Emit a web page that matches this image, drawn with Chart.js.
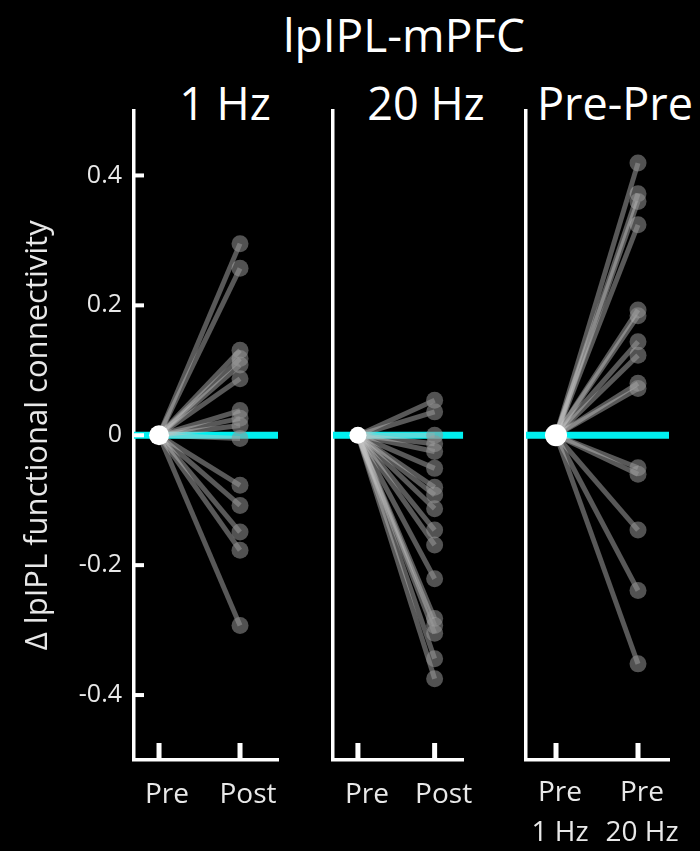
<!DOCTYPE html>
<html><head><meta charset="utf-8">
<script src="https://cdn.jsdelivr.net/npm/chart.js@4.4.1/dist/chart.umd.min.js"></script>
<style>
html,body{margin:0;padding:0;background:#000;width:700px;height:851px;overflow:hidden;}
.c{position:absolute;top:0;height:851px;}
.t{position:absolute;color:#fff;font-family:"Open Sans",sans-serif;font-size:45px;line-height:50px;white-space:nowrap;transform:translate(-50%,-50%);}
</style></head><body>
<div class="t" id="mainTitle" style="left:404px;top:34px;font-size:46px"></div>
<div class="t" id="pt0" style="left:225px;top:103px"></div>
<div class="t" id="pt1" style="left:426px;top:103px"></div>
<div class="t" id="pt2" style="left:615px;top:103px"></div>
<div class="c" style="left:0px;width:300px"><canvas id="c0" width="300" height="851"></canvas></div>
<div class="c" style="left:300px;width:180px"><canvas id="c1" width="180" height="851"></canvas></div>
<div class="c" style="left:490px;width:210px"><canvas id="c2" width="210" height="851"></canvas></div>
<script>
const mainTitle = 'lpIPL-mPFC';
const panelTitles = ['1 Hz', '20 Hz', 'Pre-Pre'];
const yAxisTitle = '\u0394 lpIPL functional connectivity';
const yTickValues = [-0.4, -0.2, 0, 0.2, 0.4];
const yTickLabels = ['-0.4', '-0.2', '0', '0.2', '0.4'];
const xLabels1Hz = ['Pre', 'Post'];
const xLabels20Hz = ['Pre', 'Post'];
const xLabelsPrePre = [['Pre', '1 Hz'], ['Pre', '20 Hz']];
const preValue = 0;
const post1Hz = [0.295, 0.257, 0.131, 0.118, 0.108, 0.087, 0.038, 0.026, 0.015, -0.005, -0.077, -0.108, -0.149, -0.177, -0.293];
const post20Hz = [0.054, 0.036, 0.0, -0.013, -0.025, -0.051, -0.080, -0.092, -0.113, -0.146, -0.169, -0.221, -0.282, -0.293, -0.305, -0.344, -0.375];
const prePre = [0.419, 0.372, 0.360, 0.324, 0.193, 0.184, 0.144, 0.123, 0.080, 0.072, -0.050, -0.060, -0.146, -0.239, -0.352];

document.getElementById('mainTitle').textContent = mainTitle;
panelTitles.forEach((t, i) => document.getElementById('pt' + i).textContent = t);

const FONT = '"Open Sans", sans-serif';

const inwardTicks = {
  id: 'inwardTicks',
  afterDraw(chart, args, opts) {
    const {ctx, chartArea} = chart;
    const xs = chart.scales.x, ys = chart.scales.y;
    ctx.save();
    ctx.fillStyle = '#fff';
    [1, 2].forEach(v => {
      const px = xs.getPixelForValue(v);
      ctx.fillRect(px - 2.5, chartArea.bottom - 17, 5, 17);
    });
    if (opts.yTicks) {
      yTickValues.forEach(v => {
        const py = ys.getPixelForValue(v);
        ctx.fillRect(chartArea.left, py - 2, 10, 4);
      });
    }
    ctx.restore();
  }
};

function makeChart(id, values, labels, o) {
  const datasets = [];
  datasets.push({
    data: [{x: 1, y: preValue}], showLine: false, pointRadius: o.preR,
    pointBackgroundColor: '#fff', pointBorderWidth: 0, order: 0
  });
  values.forEach(v => {
    datasets.push({
      data: [{x: 1, y: preValue}, {x: 2, y: v}],
      borderColor: 'rgba(195,195,195,0.45)', borderWidth: 5,
      pointRadius: [0, 8.5], pointBackgroundColor: 'rgba(150,150,150,0.55)',
      pointBorderWidth: 0, order: 1
    });
  });
  datasets.push({
    data: [{x: o.xmin, y: preValue}, {x: o.xmax, y: preValue}],
    borderColor: '#00f0f0', borderWidth: 7, pointRadius: 0, order: 2
  });
  return new Chart(document.getElementById(id), {
    type: 'line',
    data: {datasets},
    options: {
      responsive: false, animation: false,
      layout: {padding: {top: 110.5, right: o.padRight, left: 0, bottom: 0}},
      plugins: {legend: {display: false}, tooltip: {enabled: false}, inwardTicks: {yTicks: o.showY}},
      scales: {
        x: {
          type: 'linear', min: o.xmin, max: o.xmax,
          afterBuildTicks: s => { s.ticks = [{value: 1}, {value: 2}]; },
          afterFit: s => { s.height = 91; },
          grid: {display: false, drawTicks: false},
          border: {display: true, color: '#fff', width: 3.5},
          ticks: {
            color: '#e8e8e8', padding: o.labelPad, labelOffset: o.labelOffset, maxRotation: 0, autoSkip: false,
            font: {family: FONT, size: 28, lineHeight: '40px'},
            callback: (v, i) => labels[i]
          }
        },
        y: {
          type: 'linear', min: -0.5, max: 0.5,
          afterBuildTicks: s => { s.ticks = yTickValues.map(v => ({value: v})); },
          afterFit: s => { s.width = o.yWidth; },
          grid: {display: false, drawTicks: false},
          border: {display: true, color: '#fff', width: 3.5},
          ticks: {
            display: o.showY, color: '#e8e8e8', padding: 12,
            font: {family: FONT, size: 25},
            callback: (v, i) => yTickLabels[i]
          },
          title: {
            display: o.showY, text: yAxisTitle, color: '#e8e8e8',
            font: {family: FONT, size: 31}, padding: {top: 20, bottom: 0}
          }
        }
      }
    },
    plugins: [inwardTicks]
  });
}

makeChart('c0', post1Hz, xLabels1Hz, {xmin: 0.691, xmax: 2.469, yWidth: 134, padRight: 22, showY: true, preR: 10, labelPad: 15, labelOffset: 8});
makeChart('c1', post20Hz, xLabels20Hz, {xmin: 0.675, xmax: 2.373, yWidth: 33, padRight: 6, showY: false, preR: 8.5, labelPad: 15, labelOffset: 9});
makeChart('c2', prePre, xLabelsPrePre, {xmin: 0.634, xmax: 2.378, yWidth: 36, padRight: 31, showY: false, preR: 11, labelPad: 13, labelOffset: 4});
</script>
</body></html>
